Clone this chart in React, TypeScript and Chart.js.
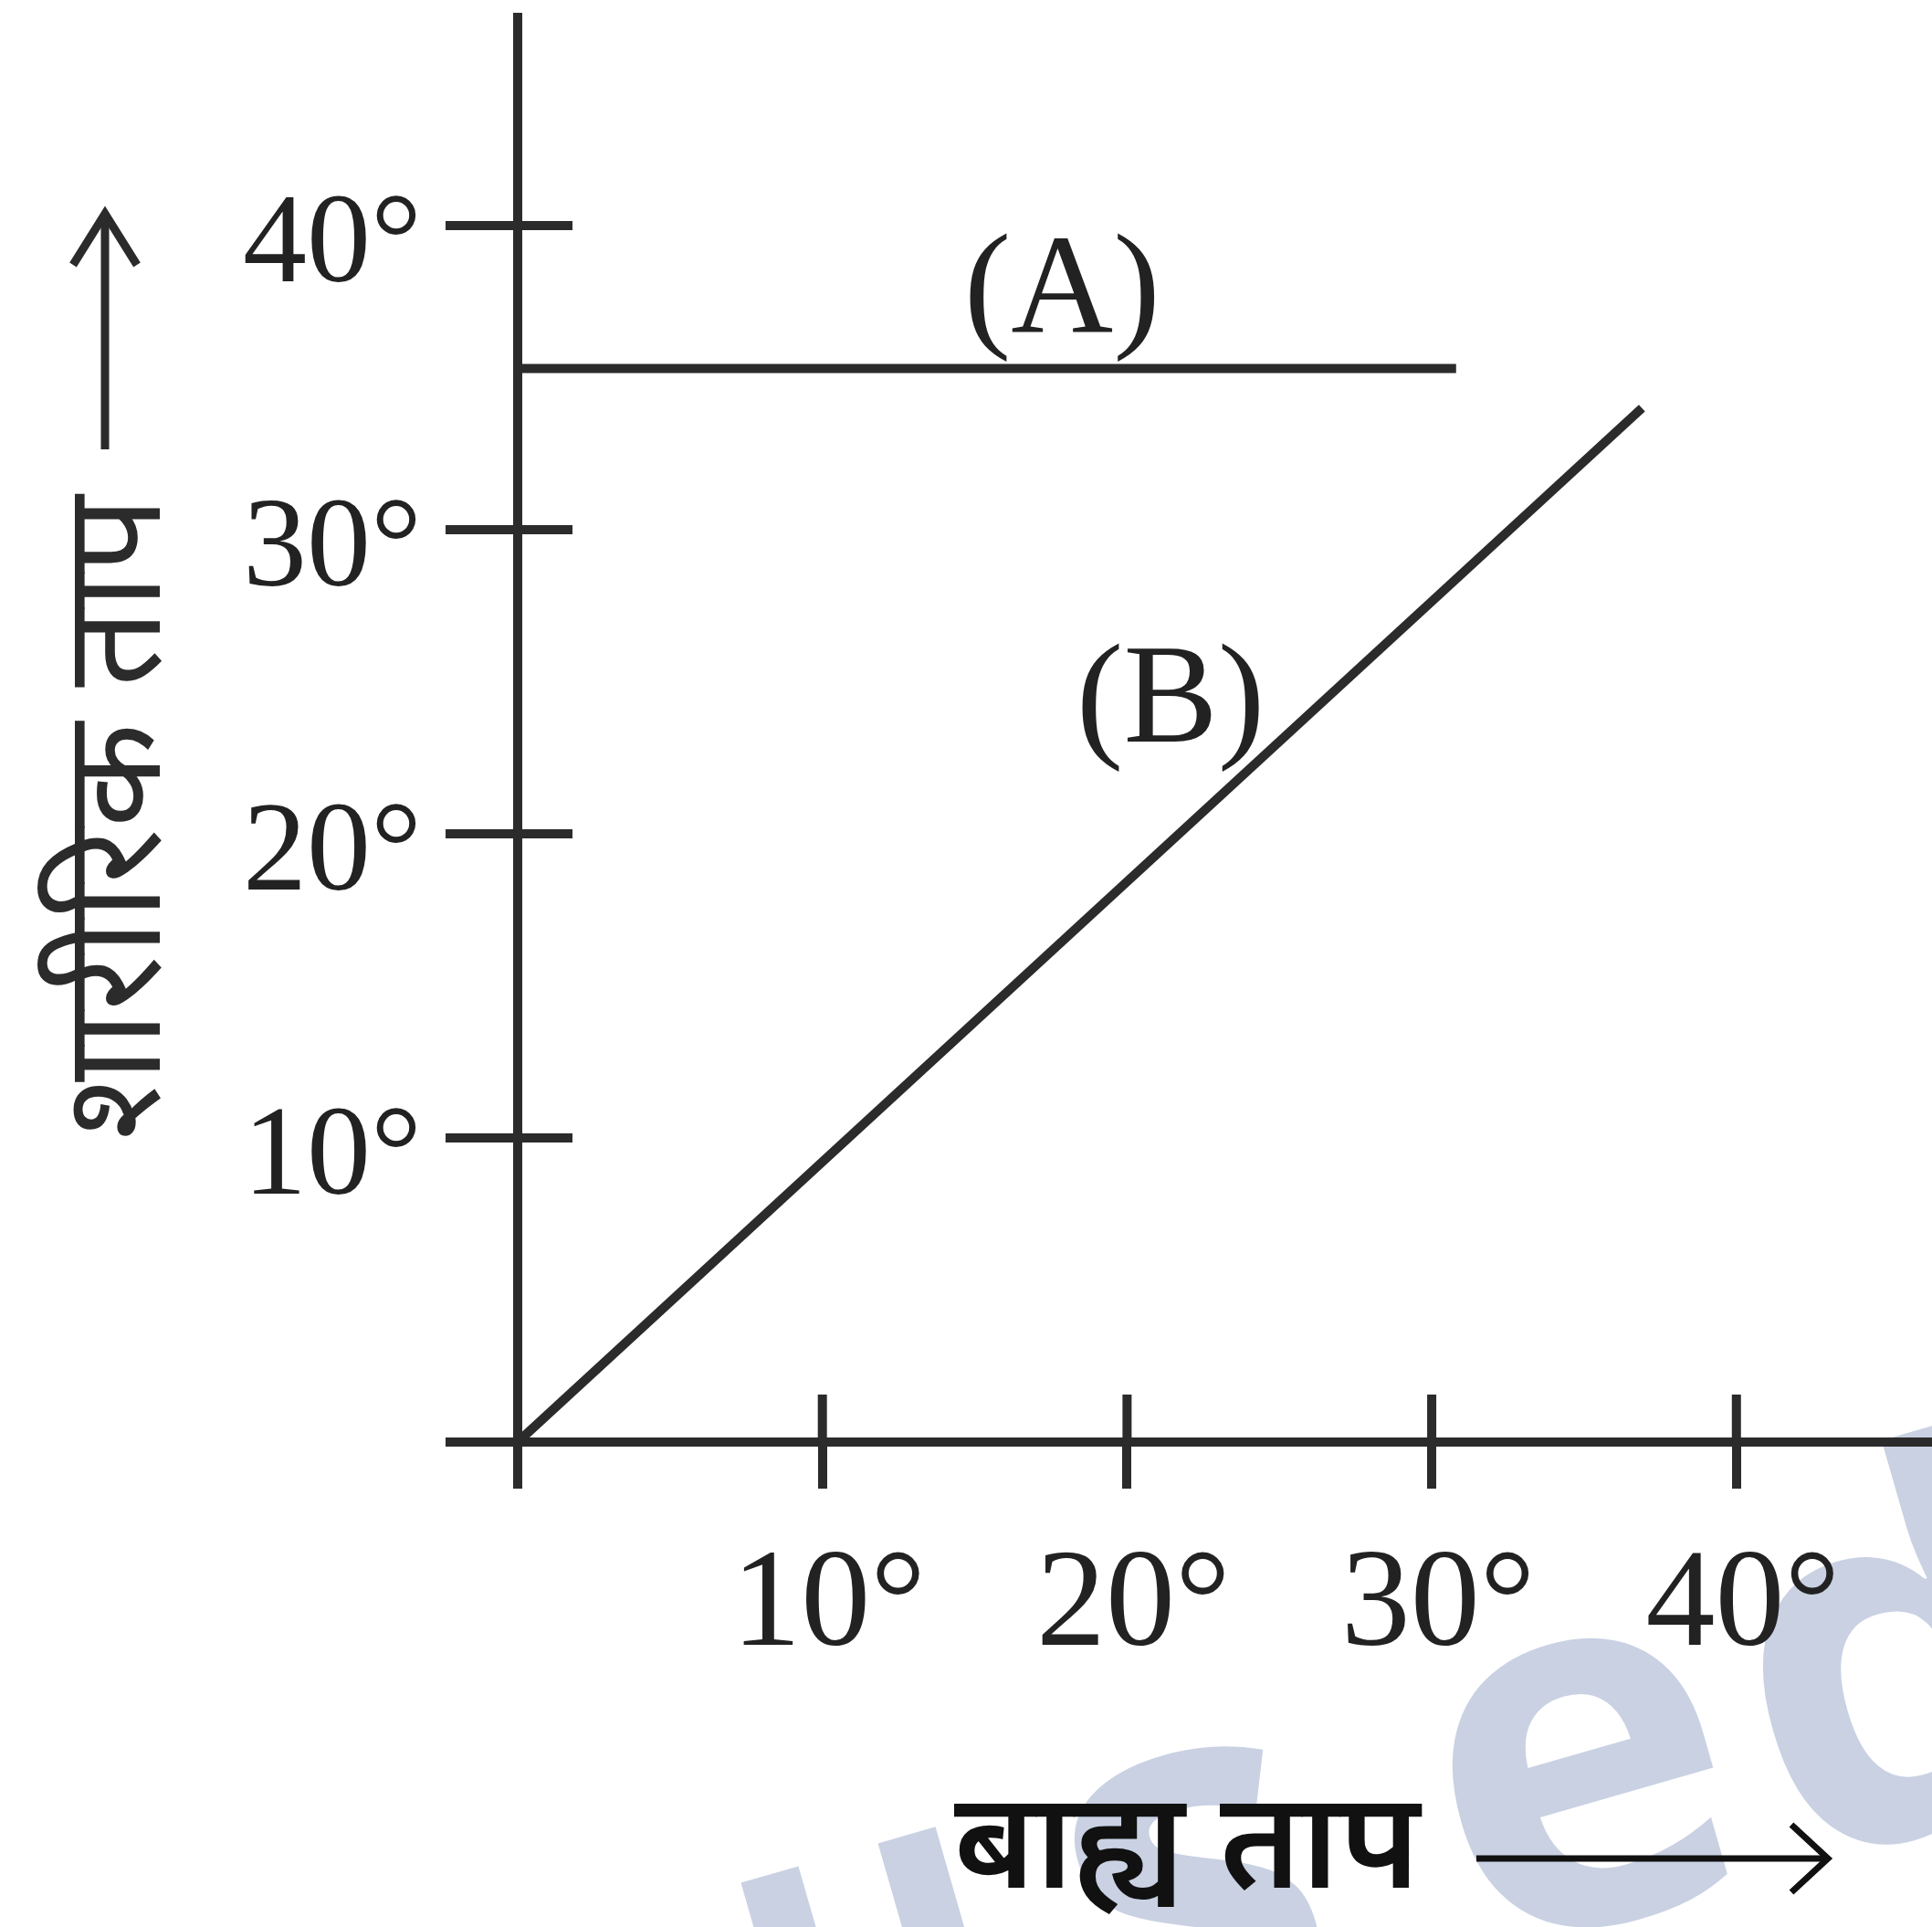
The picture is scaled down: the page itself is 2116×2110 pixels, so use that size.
import React, { useEffect, useRef } from 'react';
import { Chart, registerables } from 'chart.js';

Chart.register(...registerables);

// ---- data ----
const seriesNames = ['(A)', '(B)'];
const seriesAX = [0, 30.8];
const seriesAY = [35.3, 35.3];
const seriesBX = [0, 36.9];
const seriesBY = [0, 34.0];
// label anchors (data units): centre x, baseline y
const labelX = [17.87, 21.43];
const labelY = [36.53, 23.04];
const tickStep = 10;
const xMax = 46.42;
const yMax = 46.85;
const xTitle = 'बाह्य ताप';
const yTitle = 'शारीरिक ताप';
const watermarkChars = ['u', 's', 'e', 'd'];
const watermarkSizes = [440, 560, 560, 560];
const watermarkRise = [-65, 0, 0, 0];
const watermarkGaps = [80, 137, 25, 0];

const W = 2116;
const H = 2110;
const INK = '#2b2b2b';
const LW = 10;
const SERIF = '"Liberation Serif", "DejaVu Serif", serif';
const DEVA = '"Noto Sans Devanagari", "Noto Sans", "Lohit Devanagari", "FreeSans", sans-serif';

const decorPlugin = {
  id: 'decor',
  beforeDraw(chart: any) {
    const ctx = chart.ctx as CanvasRenderingContext2D;
    ctx.save();
    ctx.fillStyle = '#c9d1e3';
    ctx.translate(864, 2364);
    ctx.rotate(-0.28);
    ctx.textAlign = 'left';
    ctx.textBaseline = 'alphabetic';
    let cx = 0;
    watermarkChars.forEach((ch, i) => {
      ctx.font = `bold ${watermarkSizes[i]}px "Open Sans", Roboto, sans-serif`;
      ctx.fillText(ch, cx, watermarkRise[i]);
      cx += ctx.measureText(ch).width + watermarkGaps[i];
    });
    ctx.restore();
  },
  afterDraw(chart: any) {
    const ctx = chart.ctx as CanvasRenderingContext2D;
    const xs = chart.scales.x;
    const ys = chart.scales.y;
    const area = chart.chartArea;
    const x0 = xs.getPixelForValue(0);
    const y0 = ys.getPixelForValue(0);
    ctx.save();
    ctx.strokeStyle = INK;
    ctx.lineWidth = LW;
    ctx.lineCap = 'butt';
    // inward parts of ticks
    for (const t of ys.ticks) {
      if (t.value === 0) continue;
      const py = ys.getPixelForValue(t.value);
      ctx.beginPath();
      ctx.moveTo(x0, py);
      ctx.lineTo(x0 + 60, py);
      ctx.stroke();
    }
    for (const t of xs.ticks) {
      if (t.value === 0) continue;
      const px = xs.getPixelForValue(t.value);
      ctx.beginPath();
      ctx.moveTo(px, y0);
      ctx.lineTo(px, y0 - 52);
      ctx.stroke();
    }
    // tick labels
    ctx.fillStyle = '#222';
    ctx.textBaseline = 'alphabetic';
    ctx.textAlign = 'right';
    ctx.font = `140px ${SERIF}`;
    for (const t of ys.ticks) {
      if (!t.label) continue;
      const py = ys.getPixelForValue(t.value);
      ctx.fillText(t.label, area.left - 105, py + 61);
    }
    ctx.textAlign = 'center';
    ctx.font = `152px ${SERIF}`;
    for (const t of xs.ticks) {
      if (!t.label) continue;
      const px = xs.getPixelForValue(t.value);
      ctx.fillText(t.label, px + 7, y0 + 222);
    }
    // series labels
    ctx.font = `155px ${SERIF}`;
    seriesNames.forEach((name, i) => {
      ctx.fillText(name, xs.getPixelForValue(labelX[i]), ys.getPixelForValue(labelY[i]));
    });
    // x title + arrow
    ctx.fillStyle = '#111';
    ctx.strokeStyle = '#111';
    ctx.font = `600 148px ${DEVA}`;
    ctx.textAlign = 'left';
    ctx.fillText(xTitle, 1045, 2067);
    ctx.lineWidth = 7;
    ctx.beginPath();
    ctx.moveTo(1617, 2035);
    ctx.lineTo(2000, 2035);
    ctx.stroke();
    ctx.beginPath();
    ctx.moveTo(1962, 1998);
    ctx.lineTo(2002, 2035);
    ctx.lineTo(1962, 2072);
    ctx.stroke();
    // y title + arrow
    ctx.save();
    ctx.translate(175, 1248);
    ctx.rotate(-Math.PI / 2);
    ctx.fillStyle = INK;
    ctx.font = `150px ${DEVA}`;
    ctx.fillText(yTitle, 0, 0);
    ctx.restore();
    ctx.strokeStyle = INK;
    ctx.lineWidth = 9;
    ctx.beginPath();
    ctx.moveTo(115, 492);
    ctx.lineTo(115, 236);
    ctx.stroke();
    ctx.beginPath();
    ctx.moveTo(80, 290);
    ctx.lineTo(115, 234);
    ctx.lineTo(150, 290);
    ctx.stroke();
    ctx.restore();
  },
};

export default function App() {
  const ref = useRef<HTMLCanvasElement | null>(null);
  useEffect(() => {
    if (!ref.current) return;
    const lineDs = (xsArr: number[], ysArr: number[], label: string) => ({
      label,
      data: xsArr.map((x, i) => ({ x, y: ysArr[i] })),
      showLine: true,
      borderColor: INK,
      borderWidth: LW,
      borderCapStyle: 'butt' as const,
      pointRadius: 0,
      tension: 0,
      clip: false as any,
    });
    const chart = new Chart(ref.current, {
      type: 'scatter',
      data: {
        datasets: [
          lineDs(seriesAX, seriesAY, seriesNames[0]),
          lineDs(seriesBX, seriesBY, seriesNames[1]),
        ],
      },
      options: {
        animation: false,
        responsive: false,
        devicePixelRatio: 1,
        layout: { padding: { top: 19, right: 0, left: 0, bottom: 0 } },
        plugins: { legend: { display: false }, tooltip: { enabled: false } },
        events: [],
        scales: {
          x: {
            type: 'linear',
            position: 'bottom',
            min: 0,
            max: xMax,
            afterFit: (s: any) => { s.height = H - 1579; },
            ticks: {
              display: false,
              stepSize: tickStep,
              includeBounds: false,
              callback: (v: any) => (v === 0 ? '' : `${v}°`),
            },
            grid: { drawOnChartArea: false, drawTicks: true, tickLength: 51, lineWidth: LW, color: INK },
            border: { display: true, width: LW, color: INK },
          },
          y: {
            type: 'linear',
            position: 'left',
            min: 0,
            max: yMax,
            afterFit: (s: any) => { s.width = 567; },
            ticks: {
              display: false,
              stepSize: tickStep,
              includeBounds: false,
              callback: (v: any) => (v === 0 ? '' : `${v}°`),
            },
            grid: { drawOnChartArea: false, drawTicks: true, tickLength: 79, lineWidth: LW, color: INK },
            border: { display: true, width: LW, color: INK },
          },
        },
      },
      plugins: [decorPlugin],
    } as any);
    return () => chart.destroy();
  }, []);
  return (
    <div style={{ position: 'absolute', left: 0, top: 0, width: W, height: H, background: '#fff' }}>
      <canvas ref={ref} width={W} height={H} style={{ display: 'block', width: W, height: H }} />
    </div>
  );
}
